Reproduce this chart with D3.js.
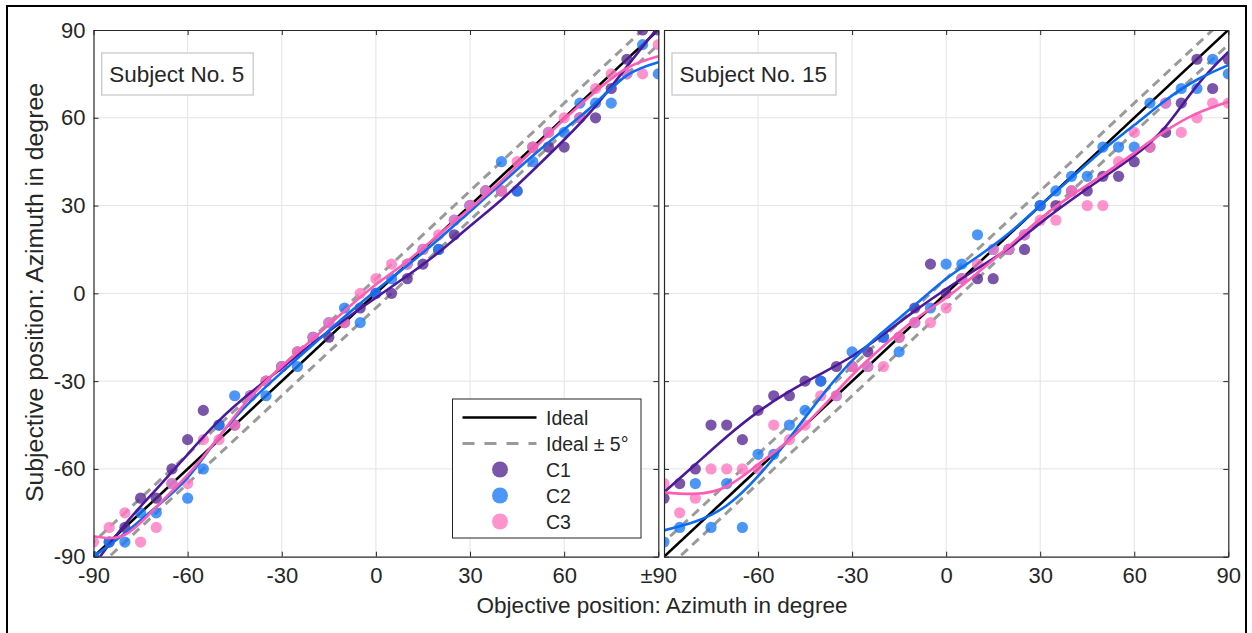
<!DOCTYPE html>
<meta charset="utf-8">
<style>
    body {
        margin: 0;
        background: #fff;
    }

    text {
        font-family: "Liberation Sans", Arial, Helvetica, sans-serif;
        fill: #262626;
    }

    .tick line {
        stroke: #262626;
    }

    .domain {
        stroke: #262626;
    }

    .grid line {
        stroke: #e3e3e3;
        stroke-width: 1;
    }

    .fit {
        fill: none;
        stroke-width: 2.6;
    }
</style>

<body>
    <script src="https://d3js.org/d3.v7.min.js"></script>
    <script>
      // objective azimuth of each trial
      var azimuth = [-90, -85, -80, -75, -70, -65, -60, -55, -50, -45, -40, -35, -30, -25, -20, -15, -10, -5, 0,
        5, 10, 15, 20, 25, 30, 35, 40, 45, 50, 55, 60, 65, 70, 75, 80, 85, 90];

      // subject no. 5, subjective answers
      var s5C1 = [-90, -85, -80, -70, -70, -60, -50, -40, -45, -45, -35, -30, -25, -20, -15, -15, -10, -5, 0,
        0, 5, 10, 15, 20, 30, 35, 35, 35, 50, 50, 50, 60, 60, 70, 80, 90, 90];
      var s5C2 = [-90, -85, -85, -75, -75, -65, -70, -60, -45, -35, -35, -35, -25, -25, -15, -10, -5, -10, 0,
        5, 10, 15, 15, 25, 30, 35, 45, 35, 45, 55, 55, 65, 65, 65, 75, 85, 75];
      var s5C3 = [-85, -80, -75, -85, -80, -65, -65, -50, -50, -45, -35, -30, -25, -20, -15, -10, -10, 0, 5,
        10, 10, 15, 20, 25, 30, 35, 35, 45, 50, 55, 60, 60, 70, 75, 75, 75, 85];

      // subject no. 15, subjective answers
      var s15C1 = [-70, -65, -60, -45, -45, -50, -40, -35, -35, -30, -30, -25, -25, -20, -15, -15, -5, 10, 0,
        5, 5, 5, 15, 15, 30, 30, 35, 35, 40, 40, 45, 50, 55, 65, 80, 70, 80];
      var s15C2 = [-85, -80, -65, -80, -65, -80, -55, -55, -45, -40, -30, -35, -20, -25, -15, -20, -10, -5, 10,
        10, 20, 15, 15, 20, 30, 35, 40, 40, 50, 50, 50, 65, 65, 70, 70, 80, 75];
      var s15C3 = [-65, -75, -70, -60, -60, -60, -60, -45, -50, -45, -35, -35, -25, -25, -25, -15, -10, -10, -5,
        5, 10, 15, 15, 20, 25, 25, 35, 30, 30, 45, 55, 50, 65, 55, 60, 65, 65];

      // fitted curves, read at every 10 degree
      var fitAz = [-90, -80, -70, -60, -50, -40, -30, -20, -10, 0, 10, 20, 30, 40, 50, 60, 70, 80, 90];
      var s5Fit1 = [-93, -79, -67, -55, -43.5, -34, -25.5, -17, -9, -1.5, 6, 14, 23, 32, 42, 52.5, 64, 77.5, 91];
      var s5Fit2 = [-90, -82, -73, -63, -49, -37, -27, -17.5, -8, 1, 9.5, 18.5, 28, 37.5, 47, 56, 65, 74.5, 79];
      var s5Fit3 = [-83, -82.5, -73, -62, -49, -35.5, -25, -15.5, -6, 3, 11, 20, 29, 38.5, 49, 59.5, 69, 77, 81];
      var s15Fit1 = [-68, -58.5, -49, -40.5, -33.5, -27.5, -21.5, -14, -6, 1.5, 8.5, 15.5, 24, 32, 39.5, 47, 57, 71, 82.5];
      var s15Fit2 = [-81, -78, -72.5, -62.5, -49.5, -35.5, -23, -13, -4, 5, 12.5, 20.5, 30, 39.5, 49, 57.5, 66, 73, 78];
      var s15Fit3 = [-68, -68.5, -66, -58.5, -50, -39.5, -28, -18, -9, -1.5, 7, 16, 25.5, 33.5, 40.5, 48, 55.5, 61.5, 65.5];

      var axisTicks = [-90, -60, -30, 0, 30, 60, 90];
      var seriesNames = ["C1", "C2", "C3"];
      var dotColor = ["#5a2b93", "#1f7cf6", "#ff78c0"];
      var lineColor = ["#4a1a9b", "#0b6cf2", "#ff5cb4"];

      var W = 1252, H = 633;
      var svg = d3.select("body").append("svg").attr("width", W).attr("height", H);

      svg.append("rect").attr("x", 7).attr("y", 6).attr("width", 1239).attr("height", 640)
          .attr("fill", "none").attr("stroke", "#000").attr("stroke-width", 2);

      var plotTop = 30, plotBottom = 556.7;

      var panels = [
        {x0: 93.5, x1: 658.3, title: "Subject No. 5", dots: [s5C1, s5C2, s5C3], fits: [s5Fit1, s5Fit2, s5Fit3],
          box: [101.7, 53, 151.5, 42], xlab: function(d) { return d == 90 ? "\u00b190" : String(d); }, ylab: true, legend: true},
        {x0: 664, x1: 1228.3, title: "Subject No. 15", dots: [s15C1, s15C2, s15C3], fits: [s15Fit1, s15Fit2, s15Fit3],
          box: [672, 53, 164, 42], xlab: function(d) { return d == -90 ? "" : String(d); }, ylab: false, legend: false}
      ];

      panels.forEach(function(p, pi) {
        var x = d3.scaleLinear().domain([-90, 90]).range([p.x0, p.x1]);
        var y = d3.scaleLinear().domain([-90, 90]).range([plotBottom, plotTop]);
        var g = svg.append("g");

        g.append("clipPath").attr("id", "clip" + pi).append("rect")
            .attr("x", p.x0).attr("y", plotTop).attr("width", p.x1 - p.x0).attr("height", plotBottom - plotTop);

        // grid
        var grid = g.append("g").attr("class", "grid");
        grid.selectAll(".gx").data(axisTicks.slice(1, -1)).enter().append("line")
            .attr("x1", d => x(d)).attr("x2", d => x(d)).attr("y1", plotTop).attr("y2", plotBottom);
        grid.selectAll(".gy").data(axisTicks.slice(1, -1)).enter().append("line")
            .attr("y1", d => y(d)).attr("y2", d => y(d)).attr("x1", p.x0).attr("x2", p.x1);

        var plot = g.append("g").attr("clip-path", "url(#clip" + pi + ")");

        // ideal and +-5
        var diag = d3.line().x(d => x(d[0])).y(d => y(d[1]));
        [-5, 5].forEach(function(off) {
          plot.append("path").attr("d", diag([[-95, -95 + off], [95, 95 + off]]))
              .attr("fill", "none").attr("stroke", "#9a9a9a").attr("stroke-width", 3)
              .attr("stroke-dasharray", "9,6");
        });
        plot.append("path").attr("d", diag([[-95, -95], [95, 95]]))
            .attr("fill", "none").attr("stroke", "#000").attr("stroke-width", 2.6);

        // answers
        p.dots.forEach(function(vals, si) {
          plot.append("g").selectAll("circle").data(vals).enter().append("circle")
              .attr("cx", (d, i) => x(azimuth[i])).attr("cy", d => y(d)).attr("r", 5.6)
              .attr("fill", dotColor[si]).attr("fill-opacity", 0.8);
        });

        // fits
        var fitLine = d3.line().x((d, i) => x(fitAz[i])).y(d => y(d)).curve(d3.curveNatural);
        p.fits.forEach(function(vals, si) {
          plot.append("path").attr("class", "fit").attr("d", fitLine(vals)).attr("stroke", lineColor[si]);
        });

        // axes
        g.append("g").attr("transform", "translate(0," + plotBottom + ")")
            .call(d3.axisBottom(x).tickValues(axisTicks).tickSize(-5).tickSizeOuter(0).tickPadding(11).tickFormat(p.xlab))
            .call(a => a.selectAll("text").style("font-size", "22px").attr("fill", "#262626"));
        g.append("g").attr("transform", "translate(0," + plotTop + ")")
            .call(d3.axisTop(x).tickValues(axisTicks).tickSize(-5).tickSizeOuter(0).tickFormat(""));
        g.append("g").attr("transform", "translate(" + p.x0 + ",0)")
            .call(d3.axisLeft(y).tickValues(axisTicks).tickSize(-5).tickSizeOuter(0).tickPadding(8)
              .tickFormat(p.ylab ? (d => String(d)) : ""))
            .call(a => a.selectAll("text").style("font-size", "22px").attr("fill", "#262626"));
        g.append("g").attr("transform", "translate(" + p.x1 + ",0)")
            .call(d3.axisRight(y).tickValues(axisTicks).tickSize(-5).tickSizeOuter(0).tickFormat(""));
        g.selectAll(".domain").attr("stroke-width", 1.2);

        // subject label
        g.append("rect").attr("x", p.box[0]).attr("y", p.box[1]).attr("width", p.box[2]).attr("height", p.box[3])
            .attr("fill", "#fff").attr("stroke", "#c9c9c9").attr("stroke-width", 1.3);
        g.append("text").attr("x", p.box[0] + 7.5).attr("y", p.box[1] + 29).style("font-size", "22.5px")
            .attr("fill", "#000").text(p.title);

        if (p.legend) {
          var lg = g.append("g").attr("transform", "translate(452.5,399)");
          lg.append("rect").attr("width", 188.5).attr("height", 139).attr("fill", "#fff")
              .attr("stroke", "#262626").attr("stroke-width", 1);
          var rows = [
            {label: "Ideal", kind: "line"},
            {label: "Ideal \u00b1 5\u00b0", kind: "dash"},
            {label: seriesNames[0], kind: "dot", c: dotColor[0]},
            {label: seriesNames[1], kind: "dot", c: dotColor[1]},
            {label: seriesNames[2], kind: "dot", c: dotColor[2]}
          ];
          rows.forEach(function(r, i) {
            var ry = 18.5 + i * 26;
            if (r.kind == "line") {
              lg.append("line").attr("x1", 10).attr("x2", 84).attr("y1", ry).attr("y2", ry)
                  .attr("stroke", "#000").attr("stroke-width", 2.6);
            } else if (r.kind == "dash") {
              lg.append("line").attr("x1", 10).attr("x2", 84).attr("y1", ry).attr("y2", ry)
                  .attr("stroke", "#9a9a9a").attr("stroke-width", 3).attr("stroke-dasharray", "12,10");
            } else {
              lg.append("circle").attr("cx", 47.5).attr("cy", ry).attr("r", 8)
                  .attr("fill", r.c).attr("fill-opacity", 0.8);
            }
            lg.append("text").attr("x", 93.5).attr("y", ry + 7).style("font-size", "19.5px")
                .attr("fill", "#000").text(r.label);
          });
        }
      });

      svg.append("text").attr("x", 662).attr("y", 613).attr("text-anchor", "middle")
          .style("font-size", "22.5px").attr("textLength", 371).attr("lengthAdjust", "spacingAndGlyphs")
          .text("Objective position: Azimuth in degree");
      svg.append("text").attr("transform", "translate(43,292.5) rotate(-90)").attr("text-anchor", "middle")
          .style("font-size", "23px").attr("textLength", 419).attr("lengthAdjust", "spacingAndGlyphs")
          .text("Subjective position: Azimuth in degree");
    </script>
</body>
